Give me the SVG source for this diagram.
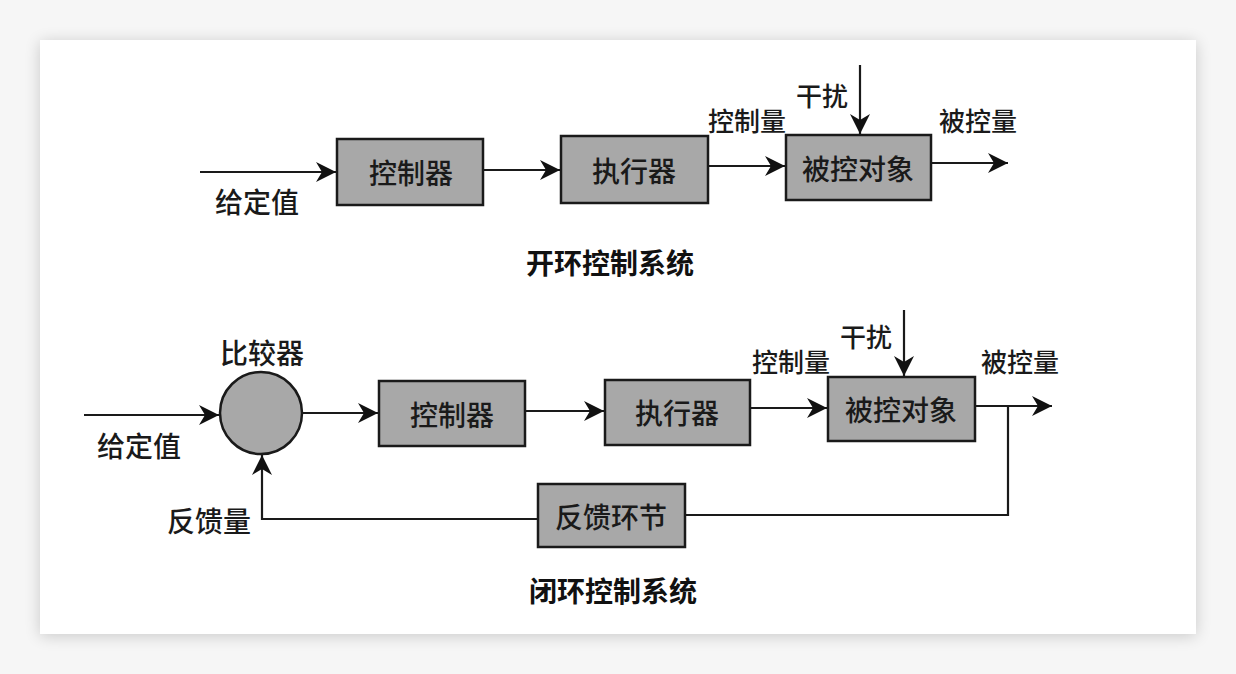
<svg xmlns="http://www.w3.org/2000/svg" width="1236" height="674" viewBox="0 0 1236 674">
<defs>
<filter id="sh" x="-5%" y="-5%" width="110%" height="110%"><feGaussianBlur stdDeviation="8"/></filter>
<marker id="ah" viewBox="0 0 10 10" refX="10" refY="5" markerWidth="20" markerHeight="20" markerUnits="userSpaceOnUse" orient="auto"><path d="M0,0 L10,5 L0,10 L3,5 Z" fill="#111"/></marker>
</defs>
<style>
.box{fill:#a8a8a8;stroke:#1a1a1a;stroke-width:2.5}
.t{font-family:"Noto Sans CJK SC",sans-serif;font-size:28px;font-weight:500;fill:#1a1a1a;text-anchor:middle;dominant-baseline:central}
.l{font-family:"Noto Sans CJK SC",sans-serif;font-size:26px;font-weight:500;fill:#1a1a1a;text-anchor:middle;dominant-baseline:central}
.lg{font-size:28px}
.h{font-family:"Noto Sans CJK SC",sans-serif;font-size:28px;font-weight:bold;fill:#111;text-anchor:middle;dominant-baseline:central}
.c{fill:none;stroke:#1a1a1a;stroke-width:2.2}
</style>
<rect width="1236" height="674" fill="#f6f6f6"/>
<rect x="40" y="42" width="1156" height="594" fill="#000" opacity="0.18" filter="url(#sh)"/>
<rect x="40" y="40" width="1156" height="594" fill="#ffffff"/>

<g id="open-controller"><rect class="box" x="337" y="139" width="146" height="66"/><text class="t" x="411" y="172">控制器</text></g>
<g id="open-actuator"><rect class="box" x="561" y="136" width="147" height="67"/><text class="t" x="634" y="170">执行器</text></g>
<g id="open-plant"><rect class="box" x="786" y="135" width="145" height="65"/><text class="t" x="858" y="168">被控对象</text></g>

<g id="closed-comparator"><circle cx="261" cy="413" r="41" fill="#a8a8a8" stroke="#1a1a1a" stroke-width="2.5"/></g>
<g id="closed-controller"><rect class="box" x="379" y="381" width="146" height="65"/><text class="t" x="452" y="414">控制器</text></g>
<g id="closed-actuator"><rect class="box" x="605" y="380" width="145" height="65"/><text class="t" x="677" y="412">执行器</text></g>
<g id="closed-plant"><rect class="box" x="828" y="377" width="147" height="64"/><text class="t" x="901" y="409">被控对象</text></g>
<g id="closed-feedback"><rect class="box" x="538" y="484" width="147" height="63"/><text class="t" x="611" y="516">反馈环节</text></g>

<g id="connectors">
<line class="c" x1="200" y1="172" x2="336" y2="172" marker-end="url(#ah)"/>
<line class="c" x1="483" y1="170" x2="560" y2="170" marker-end="url(#ah)"/>
<line class="c" x1="708" y1="166" x2="785" y2="166" marker-end="url(#ah)"/>
<line class="c" x1="860" y1="65" x2="860" y2="134" marker-end="url(#ah)"/>
<line class="c" x1="931" y1="163" x2="1008" y2="163" marker-end="url(#ah)"/>

<line class="c" x1="84" y1="415" x2="219" y2="415" marker-end="url(#ah)"/>
<line class="c" x1="302" y1="413" x2="378" y2="413" marker-end="url(#ah)"/>
<line class="c" x1="525" y1="411" x2="604" y2="411" marker-end="url(#ah)"/>
<line class="c" x1="750" y1="408" x2="827" y2="408" marker-end="url(#ah)"/>
<line class="c" x1="904" y1="310" x2="904" y2="376" marker-end="url(#ah)"/>
<line class="c" x1="975" y1="406" x2="1052" y2="406" marker-end="url(#ah)"/>
<polyline class="c" points="1008,406 1008,515 685,515"/>
<polyline class="c" points="538,519 262,519 262,455" marker-end="url(#ah)"/>
</g>

<g id="labels">
<text class="l lg" x="257" y="201">给定值</text>
<text class="l" x="747" y="119">控制量</text>
<text class="l" x="822" y="94">干扰</text>
<text class="l" x="978" y="119">被控量</text>
<text class="h" x="610" y="262">开环控制系统</text>

<text class="l lg" x="262" y="352">比较器</text>
<text class="l lg" x="139" y="445">给定值</text>
<text class="l lg" x="209" y="520">反馈量</text>
<text class="l" x="791" y="360">控制量</text>
<text class="l" x="866" y="335">干扰</text>
<text class="l" x="1020" y="360">被控量</text>
<text class="h" x="613" y="590">闭环控制系统</text>
</g>
</svg>
